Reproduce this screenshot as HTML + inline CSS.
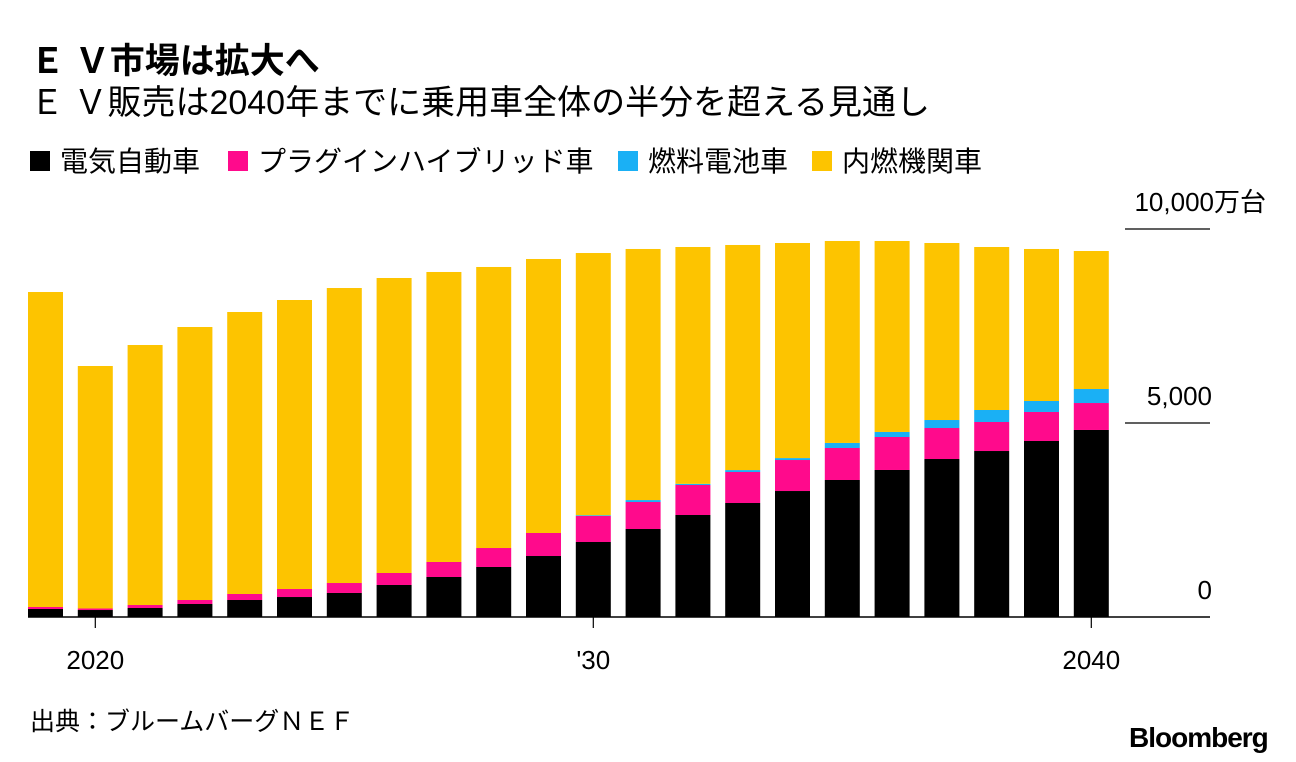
<!DOCTYPE html>
<html><head><meta charset="utf-8"><style>
body{margin:0;background:#fff;width:1296px;height:762px;overflow:hidden;font-family:"Liberation Sans","Noto Sans CJK JP",sans-serif;}
.t{position:absolute;white-space:nowrap;color:#000;line-height:1;}
</style></head><body>
<div class="t" style="left:30px;top:44px;font-size:35px;font-weight:bold;">Ｅ Ｖ市場は拡大へ</div>
<div class="t" style="left:30px;top:86px;font-size:34px;">Ｅ Ｖ販売は2040年までに乗用車全体の半分を超える見通し</div>
<div style="position:absolute;left:30px;top:148px;font-size:28px;line-height:1;">
<span style="position:absolute;left:0;white-space:nowrap"><span style="display:inline-block;width:20px;height:20px;background:#000;margin-right:10px"></span>電気自動車</span>
<span style="position:absolute;left:198px;white-space:nowrap"><span style="display:inline-block;width:20px;height:20px;background:#ff0a8c;margin-right:10px"></span>プラグインハイブリッド車</span>
<span style="position:absolute;left:588px;white-space:nowrap"><span style="display:inline-block;width:20px;height:20px;background:#1ab0f5;margin-right:10px"></span>燃料電池車</span>
<span style="position:absolute;left:782px;white-space:nowrap"><span style="display:inline-block;width:20px;height:20px;background:#fdc400;margin-right:10px"></span>内燃機関車</span>
</div>
<svg id="chart" width="1296" height="762" style="position:absolute;left:0;top:0"></svg>
<div class="t" style="left:30px;top:710px;font-size:25px;">出典：ブルームバーグＮＥＦ</div>
<div class="t" style="left:1129px;top:724px;font-size:28px;font-weight:bold;letter-spacing:-1px;">Bloomberg</div>
<script>
const years=[2019,2020,2021,2022,2023,2024,2025,2026,2027,2028,2029,2030,2031,2032,2033,2034,2035,2036,2037,2038,2039,2040];
const bev=[206,180,232,335,438,515,619,825,1031,1289,1572,1933,2268,2629,2938,3247,3531,3789,4072,4278,4536,4820];
const phev=[52,40,77,103,155,207,257,309,387,489,593,670,696,773,799,799,825,850,799,748,748,695];
const fcev=[0,0,0,0,0,0,0,0,0,0,0,20,50,30,50,50,130,130,206,309,283,361];
const ice=[8118,6249,6701,7036,7268,7448,7603,7603,7474,7243,7062,6758,6471,6104,5801,5543,5205,4922,4562,4201,3918,3557];
const yTicks=[0,5000,10000];
const yTickLabels=["0","5,000","10,000万台"];
const xTicks=[2020,2030,2040];
const xTickLabels=["2020","'30","2040"];
const svg=document.getElementById('chart');
const NS='http://www.w3.org/2000/svg';
const y=v=>617-v*0.0388;
const x=yr=>45.5+(yr-2019)*49.8;
const bw=35;
function mk(t,a){const e=document.createElementNS(NS,t);for(const k in a)e.setAttribute(k,a[k]);svg.appendChild(e);return e;}
const series=[[bev,'#000','bev'],[phev,'#ff0a8c','phev'],[fcev,'#1ab0f5','fcev'],[ice,'#fdc400','ice']];
years.forEach((yr,i)=>{let base=0;series.forEach(s=>{const v=s[0][i];if(v<=0)return;
const r=mk('rect',{x:x(yr)-bw/2,y:y(base+v),width:bw,height:y(base)-y(base+v),fill:s[1]});


base+=v;});});
yTicks.forEach((v,i)=>{if(v>0){const l=mk('line',{x1:1125,x2:1210,y1:y(v),y2:y(v),stroke:'#000','stroke-width':1.2});

}
const t=mk('text',{x:1212,y:y(v)-18,'text-anchor':'end','font-size':26,'font-family':'Liberation Sans, Noto Sans CJK JP, sans-serif'});
t.textContent=yTickLabels[i];


if(i==2)t.setAttribute('x',1266);});
const ax=mk('line',{x1:28,x2:1210,y1:617,y2:617,stroke:'#000','stroke-width':1.5});


xTicks.forEach((yr,i)=>{const tk=mk('line',{x1:x(yr),x2:x(yr),y1:617,y2:628,stroke:'#000','stroke-width':1.2});


const t=mk('text',{x:x(yr),y:669,'text-anchor':'middle','font-size':26,'font-family':'Liberation Sans, sans-serif'});
t.textContent=xTickLabels[i];

});
</script>
</body></html>
